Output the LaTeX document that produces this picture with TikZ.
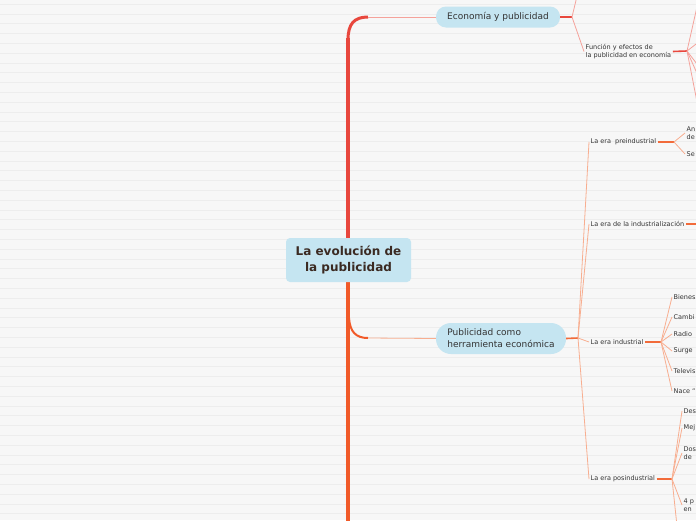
\documentclass[tikz,border=0pt]{standalone}
\usepackage{fontspec}
\setmainfont{DejaVu Sans}
\definecolor{bg}{HTML}{F7F7F7}
\definecolor{bgline}{HTML}{EDEDED}
\definecolor{spineR}{HTML}{E8473D}
\definecolor{spineO}{HTML}{F15A29}
\definecolor{nodeblue}{HTML}{C5E5F1}
\definecolor{txt}{HTML}{333333}
\definecolor{roottxt}{HTML}{3B2A22}
\definecolor{redthin}{HTML}{F5A29B}
\definecolor{orthin}{HTML}{F8AE90}
\definecolor{redstub}{HTML}{E8473D}
\definecolor{orstub}{HTML}{F26B3A}
\tikzset{
  rootbox/.style={fill=nodeblue, rounded corners=4pt, minimum width=125pt, minimum height=44pt,
    inner sep=0pt, align=center, text=roottxt, font=\fontsize{12}{15.5}\selectfont\bfseries},
  pill/.style={fill=nodeblue, rounded corners=10pt, inner sep=0pt, text=txt,
    font=\fontsize{9}{12}\selectfont},
  small/.style={anchor=west, inner sep=1.5pt, text=txt, align=left,
    font=\fontsize{6.5}{8.4}\selectfont},
  rthin/.style={draw=redthin, line width=0.8pt},
  othin/.style={draw=orthin, line width=0.8pt},
  rstub/.style={draw=redstub, line width=1.6pt},
  ostub/.style={draw=orstub, line width=1.6pt},
}
\begin{document}
\begin{tikzpicture}[x=1pt,y=-1pt]
\useasboundingbox (0,0) rectangle (696,520);
\clip (0,0) rectangle (696,520);
\fill[bg] (0,0) rectangle (696,520);
\foreach \i in {0,...,53} {
  \draw[bgline, line width=1pt] (0,{4.3+9.8*\i}) -- (696,{4.3+9.8*\i});
}
% spine
\draw[spineO, line width=4.5pt] (348,282) -- (348,530);
\draw[spineR, line width=4.5pt] (348,238) -- (348,38);
\draw[spineR, line width=3pt] (348,40) .. controls (348,24) and (354,17) .. (368,17);
\draw[spineO, line width=2pt] (349,318) .. controls (350,332) and (356,338) .. (368,338);

% nodes
\node[rootbox] (root) at (348.5,260) {La evolución de\\la publicidad};
\node[pill, minimum width=124pt, minimum height=21pt] (econ) at (498,17) {Economía y publicidad};
\node[pill, minimum width=130pt, minimum height=31pt, rounded corners=15pt, align=left] (pub) at (501,338.5) {Publicidad como\\herramienta económica};

\coordinate (econin) at (368,17);
\coordinate (pubin) at (368,338);
\draw[rthin] (econin) -- (econ.west);
\draw[othin] (pubin) -- (pub.west);

% Economia branch
\coordinate (econsplit) at (572,17);
\coordinate (econup) at (578,-8);
\node[small] (func) at (584,51.5) {Función y efectos de\\la publicidad en economía};
\draw[rstub] (econ.east) -- (econsplit);
\draw[rthin] (econsplit) -- (econup);
\draw[rthin] (econsplit) -- (func.west);
\coordinate (funcfan) at (687,51);
\draw[rstub] (func.east) -- (funcfan);
\coordinate (f1) at (699,-2);
\coordinate (f2) at (700,41);
\coordinate (f3) at (700,68);
\coordinate (f4) at (700,80);
\coordinate (f5) at (699,112);
\foreach \c in {f1,f2,f3,f4,f5} { \draw[rthin] (funcfan) -- (\c); }

% Publicidad branch
\coordinate (pubsplit) at (578,338);
\draw[ostub] (pub.east) -- (pubsplit);
\node[small] (pre) at (589,142) {La era\ \ preindustrial};
\node[small] (indz) at (589,224) {La era de la industrialización};
\node[small] (ind) at (589,342) {La era industrial};
\node[small] (pos) at (589,479) {La era posindustrial};
\foreach \c in {pre,indz,ind,pos} { \draw[othin] (pubsplit) -- (\c.west); }

% preindustrial
\coordinate (prefan) at (674,142);
\draw[ostub] (pre.east) -- (prefan);
\node[small] (pre1) at (685,133) {An\\de};
\node[small] (pre2) at (685,154) {Se};
\foreach \c in {pre1,pre2} { \draw[othin] (prefan) -- (\c.west); }

% industrializacion
\coordinate (indzout) at (700,224);
\draw[ostub] (indz.east) -- (indzout);

% industrial
\coordinate (indfan) at (661,342);
\draw[ostub] (ind.east) -- (indfan);
\node[small] (i1) at (672,297) {Bienes};
\node[small] (i2) at (672,317) {Cambi};
\node[small] (i3) at (672,334) {Radio};
\node[small] (i4) at (672,351) {Surge};
\node[small] (i5) at (672,371) {Televis};
\node[small] (i6) at (672,391) {Nace “};
\foreach \c in {i1,i2,i3,i4,i5,i6} { \draw[othin] (indfan) -- (\c.west); }

% posindustrial
\coordinate (posfan) at (672,479);
\draw[ostub] (pos.east) -- (posfan);
\node[small] (p1) at (682,411) {Des};
\node[small] (p2) at (682,428) {Mej};
\node[small] (p3) at (682,453) {Dos\\de};
\node[small] (p4) at (682,505) {4 p\\en};
\coordinate (p5) at (677,526);
\foreach \c in {p1,p2,p3,p4} { \draw[othin] (posfan) -- (\c.west); }
\draw[othin] (posfan) -- (p5);
\end{tikzpicture}
\end{document}
